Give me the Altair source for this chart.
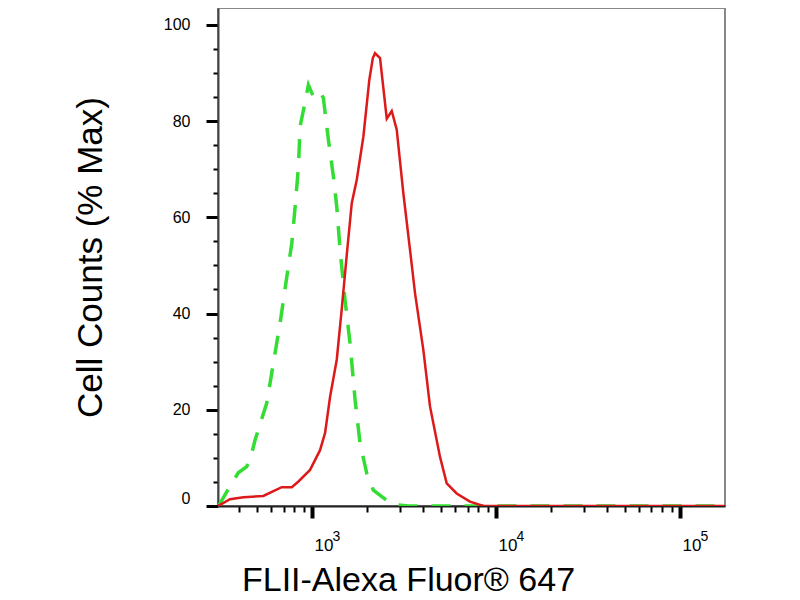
import pandas as pd
import altair as alt

# red histogram (FLII stained sample)
red_x = [308, 358, 424, 543, 684, 776, 843, 975, 1105, 1177, 1253, 1362, 1449, 1544,
         1644, 1750, 1901, 2048, 2140, 2199, 2342, 2547, 2711, 2886, 3135, 3409, 3630,
         4028, 4377, 4962, 5396, 6112, 7220, 8538, 175800]
red_y = [0, 1.4, 1.8, 2.1, 3.9, 3.9, 5.1, 7.5, 11.6, 15.2, 22.7, 30.4, 40.8, 52.2,
         63.0, 67.8, 76.8, 88.6, 93.1, 94.1, 93.1, 80.5, 82.1, 78.2, 65.0, 53.2, 44.2,
         32.4, 20.7, 10.2, 4.7, 2.6, 0.9, 0, 0]

# green dashed histogram (isotype control)
green_x = [310, 344, 397, 441, 460, 490, 567, 616, 670, 743, 776, 809, 843, 861, 898,
           955, 1016, 1105, 1152, 1202, 1227, 1306, 1362, 1420, 1511, 1609, 1714, 1824,
           1983, 2153, 2711, 3336, 4377, 5396, 175800]
green_y = [0, 3.0, 6.9, 8.2, 9.6, 13.7, 21.4, 29.7, 38.0, 49.8, 54.6, 62.2, 70.5, 78.9,
           82.3, 87.5, 85.1, 86.1, 84.8, 78.9, 76.1, 68.5, 62.2, 53.2, 42.8, 33.8, 22.0,
           13.0, 6.8, 3.3, 0.4, 0, 0, 0, 0]

x_ticks = [400, 500, 600, 700, 800, 900, 1000,
           2000, 3000, 4000, 5000, 6000, 7000, 8000, 9000, 10000,
           20000, 30000, 40000, 50000, 60000, 70000, 80000, 90000, 100000]
decades = [1000, 10000, 100000]
y_ticks = list(range(0, 101, 5))

red = pd.DataFrame({'x': red_x, 'y': red_y})
green = pd.DataFrame({'x': green_x, 'y': green_y})

lab_font = 'Liberation Sans'
major_x = 'indexof([1000, 10000, 100000], datum.value) >= 0'
x_scale = alt.Scale(type='log', domain=[308, 175800])

# main x axis: ticks, the "10" of each decade label and the title
x_main = alt.X('x:Q', scale=x_scale,
    axis=alt.Axis(
        orient='bottom', values=x_ticks, grid=False,
        tickSize={'condition': {'test': major_x, 'value': 12}, 'value': 6},
        tickWidth={'condition': {'test': major_x, 'value': 4}, 'value': 2},
        tickColor='black', domainColor='#222', domainWidth=2,
        labelExpr=major_x + " ? '10' : ''",
        labelFont=lab_font, labelFontSize=17, labelColor='black',
        labelAlign='left', labelOffset=2, labelBaseline='alphabetic', labelPadding=32,
        labelFlush=False, labelOverlap=False,
        title='FLII-Alexa Fluor® 647', titleFont='Liberation Sans', titleFontSize=34,
        titleFontWeight='normal', titleColor='black',
        titleX=190, titleY=84, titleAlign='center', titleBaseline='alphabetic'))

# second x axis: only the raised exponents
x_exp = alt.X('x:Q', scale=x_scale,
    axis=alt.Axis(
        orient='bottom', values=decades, grid=False, ticks=False, domain=False,
        labelExpr="format(log(datum.value) / LN10, 'd')",
        labelFont=lab_font, labelFontSize=14, labelColor='black',
        labelAlign='left', labelOffset=20, labelBaseline='alphabetic', labelPadding=34,
        labelFlush=False, labelOverlap=False, title=None))

y_enc = alt.Y('y:Q',
    scale=alt.Scale(domain=[0, 103.5], nice=False, zero=False),
    axis=alt.Axis(
        values=y_ticks, grid=False,
        tickSize={'condition': {'test': 'datum.value % 20 === 0', 'value': 12}, 'value': 5},
        tickWidth={'condition': {'test': 'datum.value % 20 === 0', 'value': 3}, 'value': 2},
        tickColor='black', domainColor='#444', domainWidth=2,
        labelExpr="datum.value % 20 === 0 ? datum.label : ''",
        labelFont=lab_font, labelFontSize=16, labelColor='black',
        labelPadding=16, labelOverlap=False, labelFlush=True,
        title='Cell Counts (% Max)', titleFont='Liberation Sans', titleFontSize=35,
        titleFontWeight='normal', titleColor='black',
        titleX=-128, titleY=249, titleAngle=270, titleAlign='center',
        titleBaseline='middle'))

green_line = alt.Chart(green).mark_line(
    color='#33dd33', strokeWidth=3.5, strokeDash=[19, 14], clip=True
).encode(x=x_main, y=y_enc, order='x:Q')

red_line = alt.Chart(red).mark_line(
    color='#dd1a1a', strokeWidth=2.5, clip=True
).encode(x=x_exp, y=y_enc, order='x:Q')

chart = alt.layer(green_line, red_line).resolve_axis(x='independent').properties(
    width=507, height=498,
    autosize=alt.AutoSizeParams(type='none'),
    padding={'left': 210, 'top': 0, 'right': 60, 'bottom': 92},
    background='white'
).configure_view(stroke='#888', strokeWidth=2)

chart.save("out.html", embed_options={"renderer": "svg", "actions": False})
